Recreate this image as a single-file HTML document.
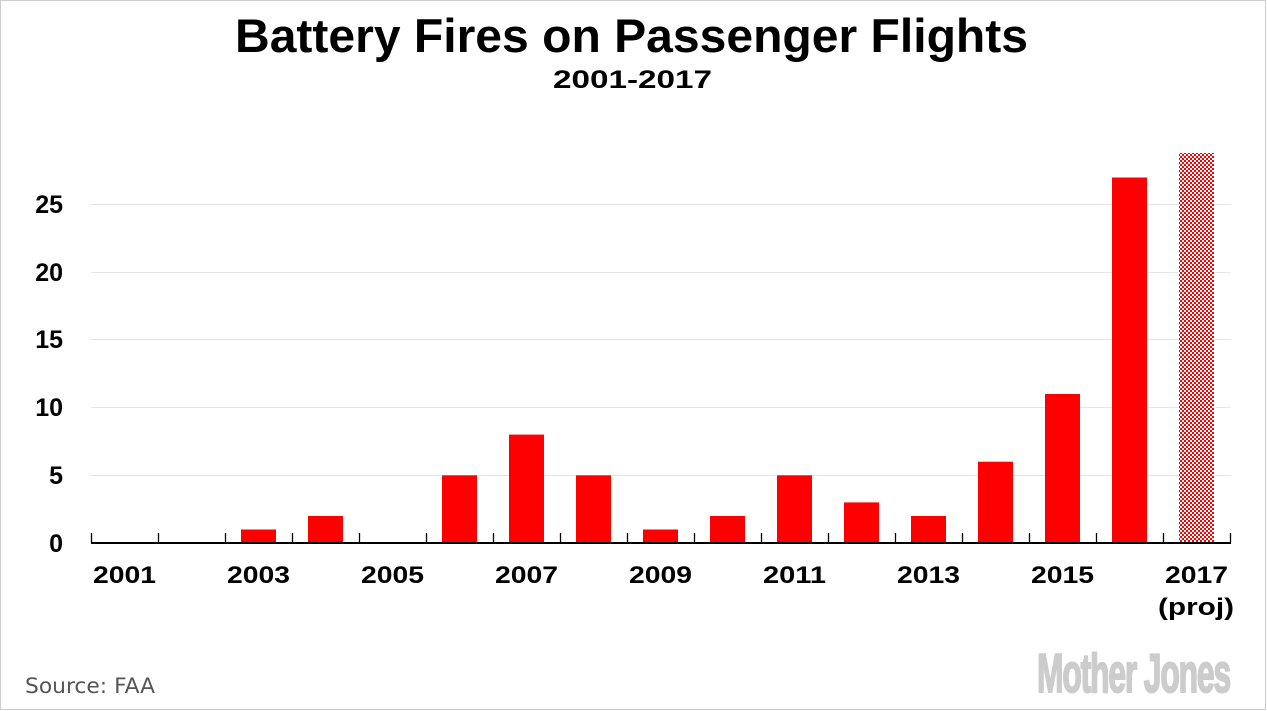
<!DOCTYPE html>
<html>
<head>
<meta charset="utf-8">
<style>
  html, body { margin: 0; padding: 0; background: #fff; }
  svg { display: block; }
</style>
</head>
<body>
<svg width="1267" height="711" viewBox="0 0 1267 711" xmlns="http://www.w3.org/2000/svg">
  <defs>
    <pattern id="chk" x="0" y="0" width="4" height="4" patternUnits="userSpaceOnUse">
      <rect x="0" y="0" width="4" height="4" fill="#ffffff"/>
      <rect x="0" y="0" width="2" height="2" fill="#ff0000"/>
      <rect x="2" y="2" width="2" height="2" fill="#ff0000"/>
    </pattern>
  </defs>
  <rect x="0" y="0" width="1267" height="711" fill="#fff"/>
  <!-- border -->
  <rect x="0.5" y="0.5" width="1265" height="709" fill="none" stroke="#cccccc" stroke-width="1"/>

  <!-- Title -->
  <text x="235" y="52" font-family="'Liberation Sans', sans-serif" font-weight="bold" font-size="47" fill="#000" textLength="793" lengthAdjust="spacingAndGlyphs">Battery Fires on Passenger Flights</text>
  <text x="553" y="88" font-family="'Liberation Sans', sans-serif" font-weight="bold" font-size="25" fill="#000" textLength="159" lengthAdjust="spacingAndGlyphs">2001-2017</text>

  <!-- gridlines -->
  <g stroke="#e6e6e6" stroke-width="1">
    <line x1="91" y1="475.5" x2="1231" y2="475.5"/>
    <line x1="91" y1="407.5" x2="1231" y2="407.5"/>
    <line x1="91" y1="339.5" x2="1231" y2="339.5"/>
    <line x1="91" y1="272.5" x2="1231" y2="272.5"/>
    <line x1="91" y1="204.5" x2="1231" y2="204.5"/>
  </g>

  <!-- y labels -->
  <g font-family="'Liberation Sans', sans-serif" font-weight="bold" font-size="25" fill="#000" text-anchor="end">
    <text x="63" y="552">0</text>
    <text x="63" y="484">5</text>
    <text x="63" y="416">10</text>
    <text x="63" y="348">15</text>
    <text x="63" y="281">20</text>
    <text x="63" y="213">25</text>
  </g>

  <!-- bars -->
  <g fill="#ff0000">
    <rect x="241" y="529.5" width="35" height="13.5"/>
    <rect x="308" y="516" width="35" height="27"/>
    <rect x="442" y="475.3" width="35" height="67.7"/>
    <rect x="509" y="434.6" width="35" height="108.4"/>
    <rect x="576" y="475.3" width="35" height="67.7"/>
    <rect x="643" y="529.5" width="35" height="13.5"/>
    <rect x="710" y="516" width="35" height="27"/>
    <rect x="777" y="475.3" width="35" height="67.7"/>
    <rect x="844" y="502.4" width="35" height="40.6"/>
    <rect x="911" y="516" width="35" height="27"/>
    <rect x="978" y="461.7" width="35" height="81.3"/>
    <rect x="1045" y="394" width="35" height="149"/>
    <rect x="1112" y="177.5" width="35" height="365.5"/>
  </g>
  <rect x="1179" y="153" width="35" height="390" fill="url(#chk)"/>

  <!-- axis -->
  <line x1="91" y1="543" x2="1231" y2="543" stroke="#000" stroke-width="2"/>
  <g stroke="#000" stroke-width="1.3">
    <line x1="91.5" y1="533" x2="91.5" y2="543"/>
    <line x1="158.5" y1="533" x2="158.5" y2="543"/>
    <line x1="225.5" y1="533" x2="225.5" y2="543"/>
    <line x1="292.5" y1="533" x2="292.5" y2="543"/>
    <line x1="359.5" y1="533" x2="359.5" y2="543"/>
    <line x1="426.5" y1="533" x2="426.5" y2="543"/>
    <line x1="493.5" y1="533" x2="493.5" y2="543"/>
    <line x1="560.5" y1="533" x2="560.5" y2="543"/>
    <line x1="627.5" y1="533" x2="627.5" y2="543"/>
    <line x1="694.5" y1="533" x2="694.5" y2="543"/>
    <line x1="761.5" y1="533" x2="761.5" y2="543"/>
    <line x1="828.5" y1="533" x2="828.5" y2="543"/>
    <line x1="895.5" y1="533" x2="895.5" y2="543"/>
    <line x1="962.5" y1="533" x2="962.5" y2="543"/>
    <line x1="1029.5" y1="533" x2="1029.5" y2="543"/>
    <line x1="1096.5" y1="533" x2="1096.5" y2="543"/>
    <line x1="1163.5" y1="533" x2="1163.5" y2="543"/>
    <line x1="1230.5" y1="533" x2="1230.5" y2="543"/>
  </g>

  <!-- x labels -->
  <g font-family="'Liberation Sans', sans-serif" font-weight="bold" font-size="24" fill="#000">
    <text x="93" y="583" textLength="63" lengthAdjust="spacingAndGlyphs">2001</text>
    <text x="227" y="583" textLength="63" lengthAdjust="spacingAndGlyphs">2003</text>
    <text x="361" y="583" textLength="63" lengthAdjust="spacingAndGlyphs">2005</text>
    <text x="495" y="583" textLength="63" lengthAdjust="spacingAndGlyphs">2007</text>
    <text x="629" y="583" textLength="63" lengthAdjust="spacingAndGlyphs">2009</text>
    <text x="763" y="583" textLength="63" lengthAdjust="spacingAndGlyphs">2011</text>
    <text x="897" y="583" textLength="63" lengthAdjust="spacingAndGlyphs">2013</text>
    <text x="1031" y="583" textLength="63" lengthAdjust="spacingAndGlyphs">2015</text>
    <text x="1165" y="583" textLength="63" lengthAdjust="spacingAndGlyphs">2017</text>
    <text x="1158" y="615" textLength="76" lengthAdjust="spacingAndGlyphs">(proj)</text>
  </g>

  <!-- source -->
  <text x="25" y="693" font-family="'DejaVu Sans', 'Liberation Sans', sans-serif" font-size="21" fill="#555" textLength="130" lengthAdjust="spacingAndGlyphs">Source: FAA</text>

  <!-- logo -->
  <text x="1037" y="692" font-family="'Liberation Sans Narrow', 'Liberation Sans', sans-serif" font-weight="bold" font-size="55" fill="#cccccc" stroke="#cccccc" stroke-width="2" stroke-linejoin="round" textLength="193" lengthAdjust="spacingAndGlyphs" letter-spacing="-2">Mother Jones</text>
</svg>
</body>
</html>
